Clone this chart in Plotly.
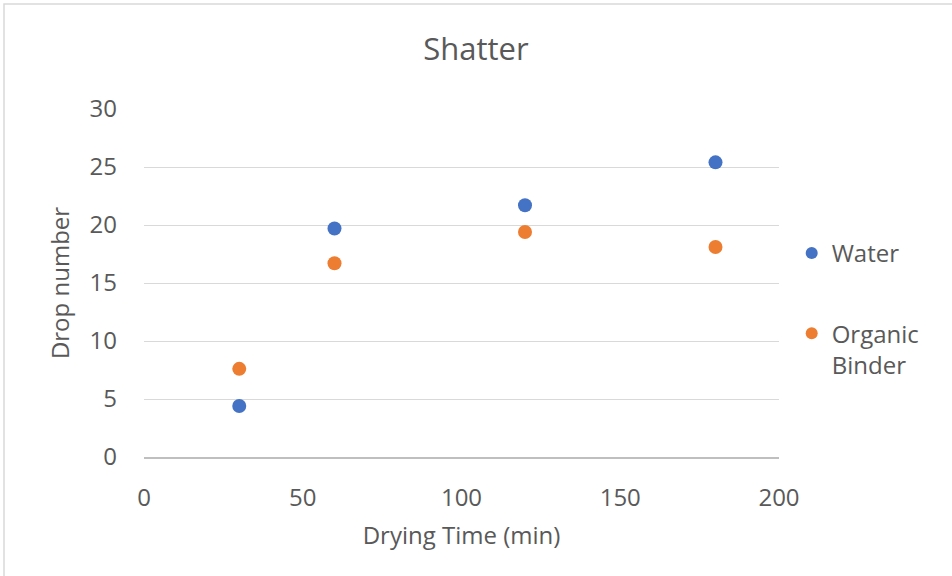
import plotly.graph_objects as go

drying_time = [30, 60, 120, 180]
water = [4.4, 19.7, 21.7, 25.4]
organic_binder = [7.6, 16.7, 19.4, 18.1]
series_names = ["Water", "Organic<br>Binder"]

FONT = "Open Sans"
TXT = "#595959"

fig = go.Figure()
fig.add_trace(go.Scatter(x=drying_time, y=water, mode="markers", name=series_names[0],
                         legendgroup="g1", marker=dict(color="#4472C4", size=14)))
fig.add_trace(go.Scatter(x=drying_time, y=organic_binder, mode="markers", name=series_names[1],
                         legendgroup="g2", marker=dict(color="#ED7D31", size=14)))

fig.update_layout(
    width=952, height=576,
    margin=dict(l=144, r=173, t=109, b=119),
    paper_bgcolor="white", plot_bgcolor="white",
    font=dict(family=FONT, color=TXT),
    title=dict(text="Shatter", x=0.5, xanchor="center", y=1 - 49/576, yanchor="middle",
               font=dict(size=31, color=TXT, family=FONT)),
    xaxis=dict(range=[0, 200], dtick=50, showgrid=False, zeroline=False,
               showline=True, linecolor="#bfbfbf", linewidth=1.5, ticks="",
               tickfont=dict(size=24, color=TXT), ticklabelstandoff=18,
               title=dict(text="Drying Time (min)", font=dict(size=24, color=TXT), standoff=16)),
    yaxis=dict(range=[0, 30], dtick=5, showgrid=True, gridcolor="#d9d9d9", gridwidth=1,
               zeroline=False, showline=False, ticks="",
               tickfont=dict(size=24, color=TXT), ticklabelstandoff=26,
               title=dict(text="Drop number", font=dict(size=24, color=TXT), standoff=13)),
    legend=dict(x=1.02, xanchor="left", y=(457-231)/348, yanchor="top",
                font=dict(size=24, color=TXT), tracegroupgap=46, itemsizing="constant",
                itemwidth=30, valign="top", bgcolor="rgba(0,0,0,0)"),
    shapes=[dict(type="rect", xref="paper", yref="paper",
                 x0=(4-144)/635, x1=(960-144)/635, y0=(457-600)/348, y1=(457-4)/348,
                 line=dict(color="#d9d9d9", width=1.5), fillcolor="rgba(0,0,0,0)", layer="below")],
)

fig.write_html("out.html")
